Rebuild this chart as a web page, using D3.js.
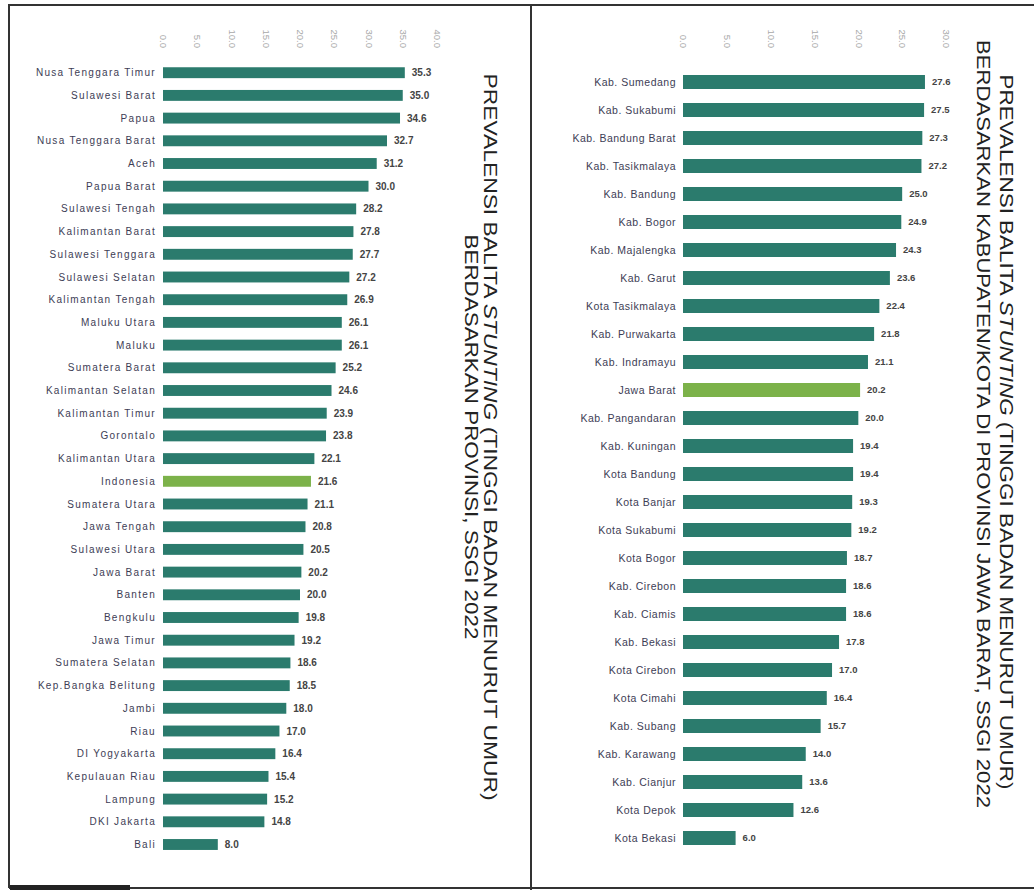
<!DOCTYPE html>
<html lang="id">
<head>
    <meta charset="UTF-8">
    <title>Prevalensi Balita Stunting SSGI 2022</title>
    <script src="https://d3js.org/d3.v7.min.js"></script>
    <style>
        body{margin:0;background:#fff;}
        svg{display:block;font-family:"Liberation Sans",Arial,sans-serif;}
    </style>
</head>
<body>
<div id="grafik"></div>
<script>
    // data provinsi (kiri)
    const provinsi = ["Nusa Tenggara Timur","Sulawesi Barat","Papua","Nusa Tenggara Barat","Aceh","Papua Barat",
        "Sulawesi Tengah","Kalimantan Barat","Sulawesi Tenggara","Sulawesi Selatan","Kalimantan Tengah","Maluku Utara",
        "Maluku","Sumatera Barat","Kalimantan Selatan","Kalimantan Timur","Gorontalo","Kalimantan Utara","Indonesia",
        "Sumatera Utara","Jawa Tengah","Sulawesi Utara","Jawa Barat","Banten","Bengkulu","Jawa Timur","Sumatera Selatan",
        "Kep.Bangka Belitung","Jambi","Riau","DI Yogyakarta","Kepulauan Riau","Lampung","DKI Jakarta","Bali"];
    const nilaiProvinsi = [35.3,35.0,34.6,32.7,31.2,30.0,28.2,27.8,27.7,27.2,26.9,26.1,26.1,25.2,24.6,23.9,23.8,22.1,21.6,
        21.1,20.8,20.5,20.2,20.0,19.8,19.2,18.6,18.5,18.0,17.0,16.4,15.4,15.2,14.8,8.0];
    const ticksProvinsi = [0,5,10,15,20,25,30,35,40];

    // data kabupaten/kota Jawa Barat (kanan)
    const kabKota = ["Kab. Sumedang","Kab. Sukabumi","Kab. Bandung Barat","Kab. Tasikmalaya","Kab. Bandung","Kab. Bogor",
        "Kab. Majalengka","Kab. Garut","Kota Tasikmalaya","Kab. Purwakarta","Kab. Indramayu","Jawa Barat","Kab. Pangandaran",
        "Kab. Kuningan","Kota Bandung","Kota Banjar","Kota Sukabumi","Kota Bogor","Kab. Cirebon","Kab. Ciamis","Kab. Bekasi",
        "Kota Cirebon","Kota Cimahi","Kab. Subang","Kab. Karawang","Kab. Cianjur","Kota Depok","Kota Bekasi"];
    const nilaiKabKota = [27.6,27.5,27.3,27.2,25.0,24.9,24.3,23.6,22.4,21.8,21.1,20.2,20.0,19.4,19.4,19.3,19.2,18.7,18.6,18.6,
        17.8,17.0,16.4,15.7,14.0,13.6,12.6,6.0];
    const ticksKabKota = [0,5,10,15,20,25,30];

    const width = 1034, height = 890,
        warnaBar = "#2b7b6d", warnaSorot = "#7cb24a";

    const svg = d3.select('#grafik').append('svg')
        .attr("width", width)
        .attr("height", height);

    // bingkai
    const frame = svg.append("g").attr("stroke","#333").attr("stroke-width",2);
    frame.append("line").attr("x1",8).attr("x2",width).attr("y1",5).attr("y2",5);
    frame.append("line").attr("x1",9).attr("x2",9).attr("y1",5).attr("y2",888);
    frame.append("line").attr("x1",531).attr("x2",531).attr("y1",5).attr("y2",890);
    frame.append("line").attr("x1",9).attr("x2",width).attr("y1",888).attr("y2",888);
    svg.append("rect").attr("x",10).attr("y",885).attr("width",120).attr("height",5).attr("fill","#222");

    function panel(o){
        let x = d3.scaleLinear().domain(o.domain).range(o.xRange),
            y = d3.scaleBand(o.names, o.yRange).paddingInner(o.pad).paddingOuter(o.pad/2),
            data = o.names.map((n,i)=>({nama:n, nilai:o.values[i]}));

        // sumbu atas, label diputar
        let ax = svg.append("g").attr("transform",`translate(0,${o.axisY})`)
            .call(d3.axisTop(x).tickValues(o.ticks).tickFormat(d3.format(".1f")).tickSize(0));
        ax.select(".domain").remove();
        ax.selectAll("text")
            .attr("transform","rotate(90)")
            .attr("x",-4).attr("y",0).attr("dy","0.35em")
            .style("text-anchor","end")
            .attr("fill","#a8a8a8")
            .style("font-size","9.5px");

        let g = svg.append("g");
        g.selectAll("rect").data(data).enter().append("rect")
            .attr("x", x(0))
            .attr("y", d=>y(d.nama))
            .attr("width", d=>x(d.nilai)-x(0))
            .attr("height", y.bandwidth())
            .attr("fill", d=>d.nama===o.sorot ? warnaSorot : warnaBar);

        g.selectAll("text.nama").data(data).enter().append("text").attr("class","nama")
            .attr("x", x(0)-7)
            .attr("y", d=>y(d.nama)+y.bandwidth()/2)
            .attr("dy","0.35em")
            .attr("text-anchor","end")
            .attr("fill","#3d3d55")
            .style("font-size", o.fsNama)
            .style("letter-spacing", o.lsNama)
            .text(d=>d.nama);

        g.selectAll("text.nilai").data(data).enter().append("text").attr("class","nilai")
            .attr("x", d=>x(d.nilai)+7)
            .attr("y", d=>y(d.nama)+y.bandwidth()/2)
            .attr("dy","0.35em")
            .attr("fill","#444")
            .style("font-size", o.fsNilai)
            .style("font-weight","bold")
            .text(d=>d3.format(".1f")(d.nilai));

        // judul vertikal
        o.judul.forEach(j=>{
            let t = svg.append("text")
                .attr("transform",`translate(${j.x},${j.y}) rotate(90)`)
                .attr("text-anchor","middle")
                .attr("fill","#222")
                .style("font-size","19px")
                .attr("textLength", j.len)
                .attr("lengthAdjust","spacingAndGlyphs");
            j.parts.forEach(p=>{
                t.append("tspan").style("font-style", p[1] ? "italic" : "normal").text(p[0]);
            });
        });
    }

    panel({names:provinsi, values:nilaiProvinsi, ticks:ticksProvinsi, domain:[0,40], xRange:[163,437],
        yRange:[61.35,855.85], pad:0.52, axisY:52, sorot:"Indonesia",
        fsNama:"10px", lsNama:"1.3px", fsNilai:"10px",
        judul:[
            {x:484, y:437, len:727, parts:[["PREVALENSI BALITA "],["STUNTING",true],[" (TINGGI BADAN MENURUT UMUR)"]]},
            {x:465, y:437, len:405, parts:[["BERDASARKAN PROVINSI, SSGI 2022"]]}
        ]});

    panel({names:kabKota, values:nilaiKabKota, ticks:ticksKabKota, domain:[0,30], xRange:[683,946],
        yRange:[68,852], pad:0.5, axisY:52, sorot:"Jawa Barat",
        fsNama:"10.5px", lsNama:"0.5px", fsNilai:"9.5px",
        judul:[
            {x:1000, y:432, len:715, parts:[["PREVALENSI BALITA "],["STUNTING",true],[" (TINGGI BADAN MENURUT UMUR)"]]},
            {x:977, y:424, len:768, parts:[["BERDASARKAN KABUPATEN/KOTA DI PROVINSI JAWA BARAT, SSGI 2022"]]}
        ]});
</script>
</body>
</html>
